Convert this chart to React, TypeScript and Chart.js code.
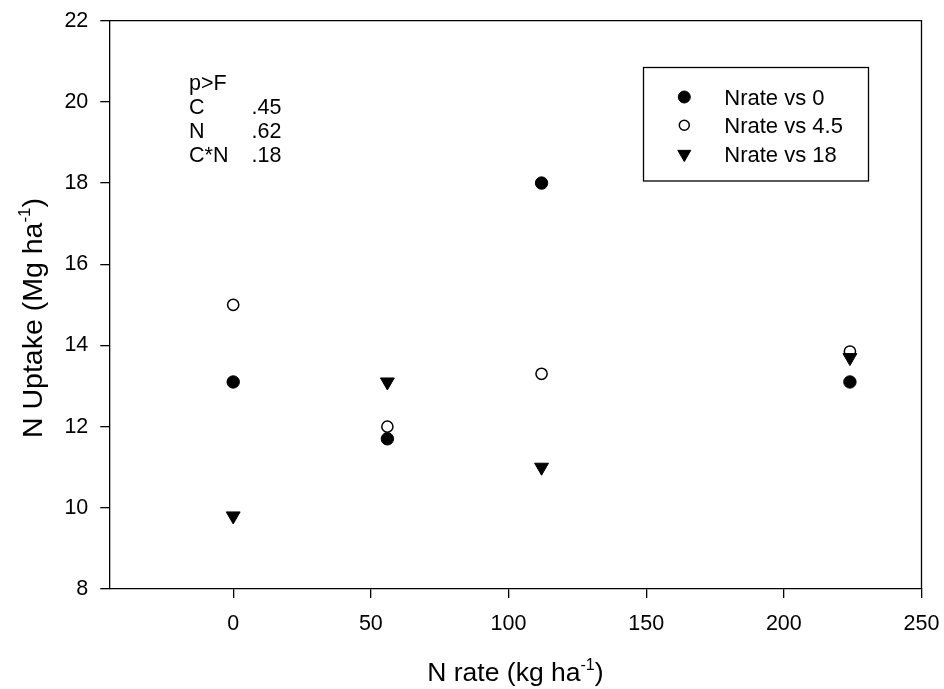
import React, { useEffect, useRef } from "react";
import { Chart, registerables } from "chart.js";

Chart.register(...registerables);

// ---- data ----
const N_RATES = [0, 56, 112, 224];
const NRATE_VS_0 = [13.1, 11.7, 18.0, 13.1];
const NRATE_VS_4_5 = [15.0, 12.0, 13.3, 13.85];
const NRATE_VS_18 = [9.8, 13.1, 11.0, 13.7];
const SERIES_LABELS = ["Nrate vs 0", "Nrate vs 4.5", "Nrate vs 18"];

const X_TICKS = [0, 50, 100, 150, 200, 250];
const Y_TICKS = [8, 10, 12, 14, 16, 18, 20, 22];

const STATS_HEADER = "p>F";
const STATS_TERMS = ["C", "N", "C*N"];
const STATS_P = [".45", ".62", ".18"];

const X_TITLE = ["N rate (kg ha", "-1", ")"];
const Y_TITLE = ["N Uptake (Mg ha", "-1", ")"];

const FONT = "'Liberation Sans', Arial, sans-serif";

function drawSupText(ctx: CanvasRenderingContext2D, parts: string[], cx: number, baseline: number, size: number) {
  const supSize = Math.round(size * 0.6);
  ctx.font = `${size}px ${FONT}`;
  const w0 = ctx.measureText(parts[0]).width;
  const w2 = ctx.measureText(parts[2]).width;
  ctx.font = `${supSize}px ${FONT}`;
  const w1 = ctx.measureText(parts[1]).width;
  const total = w0 + w1 + w2;
  let x = cx - total / 2;
  ctx.textAlign = "left";
  ctx.textBaseline = "alphabetic";
  ctx.fillStyle = "#000";
  ctx.font = `${size}px ${FONT}`;
  ctx.fillText(parts[0], x, baseline);
  x += w0;
  ctx.font = `${supSize}px ${FONT}`;
  ctx.fillText(parts[1], x, baseline - size * 0.42);
  x += w1;
  ctx.font = `${size}px ${FONT}`;
  ctx.fillText(parts[2], x, baseline);
}

function drawMarker(ctx: CanvasRenderingContext2D, style: string, x: number, y: number, r: number, fill: string, border: number) {
  ctx.beginPath();
  if (style === "triangle") {
    ctx.moveTo(x, y + r);
    ctx.lineTo(x - r * Math.sin(Math.PI / 3), y - r / 2);
    ctx.lineTo(x + r * Math.sin(Math.PI / 3), y - r / 2);
    ctx.closePath();
  } else {
    ctx.arc(x, y, r, 0, Math.PI * 2);
  }
  ctx.fillStyle = fill;
  ctx.fill();
  ctx.lineWidth = border;
  ctx.strokeStyle = "#000";
  ctx.stroke();
}

const decorPlugin = {
  id: "decor",
  afterDraw(chart: any) {
    const ctx: CanvasRenderingContext2D = chart.ctx;
    const area = chart.chartArea;
    ctx.save();
    ctx.strokeStyle = "#000";
    ctx.lineWidth = 1.3;
    ctx.beginPath();
    ctx.moveTo(area.left, area.top);
    ctx.lineTo(area.right, area.top);
    ctx.lineTo(area.right, area.bottom);
    ctx.stroke();

    drawSupText(ctx, X_TITLE, (area.left + area.right) / 2, 681, 26.5);
    ctx.save();
    ctx.translate(42, 318);
    ctx.rotate(-Math.PI / 2);
    drawSupText(ctx, Y_TITLE, 0, 0, 28.5);
    ctx.restore();

    ctx.fillStyle = "#000";
    ctx.textAlign = "left";
    ctx.textBaseline = "alphabetic";
    ctx.font = `21.5px ${FONT}`;
    ctx.fillText(STATS_HEADER, 189, 89.5);
    STATS_TERMS.forEach((t, i) => {
      ctx.fillText(t, 189, 113.5 + i * 24);
      ctx.fillText(STATS_P[i], 251.5, 113.5 + i * 24);
    });

    ctx.lineWidth = 1.3;
    ctx.strokeStyle = "#000";
    ctx.strokeRect(643.5, 67.5, 225, 113.5);
    const legendR = [6, 5, 7.5];
    chart.data.datasets.forEach((ds: any, i: number) => {
      const cy = 97 + i * 28.3;
      drawMarker(ctx, ds.pointStyle, 684.3, cy + (ds.pointStyle === "triangle" ? 0.5 : 0), legendR[i], ds.backgroundColor, ds.borderWidth);
      ctx.fillStyle = "#000";
      ctx.font = `22px ${FONT}`;
      ctx.textAlign = "left";
      ctx.textBaseline = "alphabetic";
      ctx.fillText(ds.label, 724.3, 105 + i * 28.3);
    });
    ctx.restore();
  },
};

export default function App() {
  const ref = useRef<HTMLCanvasElement | null>(null);
  useEffect(() => {
    if (!ref.current) return;
    const toPts = (ys: number[]) => N_RATES.map((x, i) => ({ x, y: ys[i] }));
    const chart = new Chart(ref.current, {
      type: "scatter",
      data: {
        datasets: [
          {
            label: SERIES_LABELS[0],
            data: toPts(NRATE_VS_0),
            pointStyle: "circle",
            pointRadius: 6.2,
            backgroundColor: "#000",
            borderColor: "#000",
            borderWidth: 1,
            order: 1,
          },
          {
            label: SERIES_LABELS[1],
            data: toPts(NRATE_VS_4_5),
            pointStyle: "circle",
            pointRadius: 5.6,
            backgroundColor: "#fff",
            borderColor: "#000",
            borderWidth: 1.5,
            order: 2,
          },
          {
            label: SERIES_LABELS[2],
            data: toPts(NRATE_VS_18),
            pointStyle: "triangle",
            rotation: 180,
            pointRadius: 8,
            backgroundColor: "#000",
            borderColor: "#000",
            borderWidth: 1,
            order: 0,
          },
        ] as any,
      },
      options: {
        responsive: false,
        animation: false,
        events: [],
        layout: { padding: { top: 20.7, right: 22.5, left: 0, bottom: 0 } },
        plugins: { legend: { display: false }, tooltip: { enabled: false }, title: { display: false } },
        scales: {
          x: {
            type: "linear",
            min: -45,
            max: 250,
            afterBuildTicks: (s: any) => {
              s.ticks = X_TICKS.map((v) => ({ value: v }));
            },
            afterFit: (s: any) => {
              s.height = 100;
              s.paddingLeft = 0;
              s.paddingRight = 0;
            },
            grid: { drawOnChartArea: false, drawTicks: true, tickLength: 9, color: "#000", lineWidth: 1.3 },
            border: { display: true, color: "#000", width: 1.3 },
            ticks: { color: "#000", font: { family: FONT, size: 21.5 }, padding: 13, maxRotation: 0, autoSkip: false },
          },
          y: {
            type: "linear",
            min: 8,
            max: 22,
            afterBuildTicks: (s: any) => {
              s.ticks = Y_TICKS.map((v) => ({ value: v }));
            },
            afterFit: (s: any) => {
              s.width = 109.3;
              s.paddingTop = 0;
              s.paddingBottom = 0;
            },
            grid: { drawOnChartArea: false, drawTicks: true, tickLength: 9, color: "#000", lineWidth: 1.3 },
            border: { display: true, color: "#000", width: 1.3 },
            ticks: { color: "#000", font: { family: FONT, size: 21.5 }, padding: 12, autoSkip: false },
          },
        },
      } as any,
      plugins: [decorPlugin],
    });
    return () => chart.destroy();
  }, []);
  return (
    <div style={{ position: "fixed", left: 0, top: 0, width: 944, height: 689, background: "#fff" }}>
      <canvas ref={ref} width={944} height={689} style={{ display: "block" }} />
    </div>
  );
}
